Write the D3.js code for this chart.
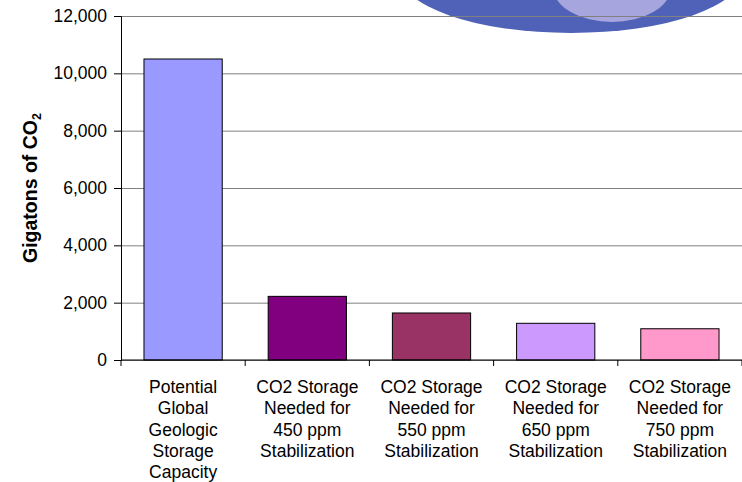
<!DOCTYPE html>
<html>
<head>
<meta charset="utf-8">
<script src="https://cdn.jsdelivr.net/npm/d3@7"></script>
<style>
  body { margin: 0; background: #fff; }
  text { font-family: "Liberation Sans", Arial, sans-serif; fill: #000; }
</style>
</head>
<body>
<div id="chart"></div>
<script>
// data
const categories = ["potential", "450", "550", "650", "750"];
const labelLines = [
  ["Potential", "Global", "Geologic", "Storage", "Capacity"],
  ["CO2 Storage", "Needed for", "450 ppm", "Stabilization"],
  ["CO2 Storage", "Needed for", "550 ppm", "Stabilization"],
  ["CO2 Storage", "Needed for", "650 ppm", "Stabilization"],
  ["CO2 Storage", "Needed for", "750 ppm", "Stabilization"]
];
const values = [10500, 2220, 1640, 1280, 1090];
const barColors = ["#9999ff", "#800080", "#993366", "#cc99ff", "#ff99cc"];
const yTicks = [0, 2000, 4000, 6000, 8000, 10000, 12000];

const W = 742, H = 482;
const margin = {top: 16, right: 0, bottom: 122, left: 121};
const width = W - margin.left - margin.right,
      height = H - margin.top - margin.bottom;

const svg = d3.select("#chart").append("svg")
    .attr("width", W)
    .attr("height", H);

// decorative globe peeking in at the top
svg.append("ellipse")
    .attr("cx", 571).attr("cy", -27)
    .attr("rx", 172).attr("ry", 60)
    .attr("fill", "#4f62b8");
svg.append("ellipse")
    .attr("cx", 612).attr("cy", -13)
    .attr("rx", 59).attr("ry", 35)
    .attr("fill", "#a7a5dd");

const g = svg.append("g")
    .attr("transform", `translate(${margin.left},${margin.top})`);

const x = d3.scaleBand()
  .domain(categories)
  .range([0, width])
  .paddingInner(0.37)
  .paddingOuter(0.185);

const y = d3.scaleLinear()
  .domain([0, 12000])
  .range([height, 0]);

// gridlines
g.append("g")
  .call(d3.axisLeft(y).tickValues(yTicks).tickSize(-width).tickFormat(""))
  .call(a => a.select(".domain").remove())
  .selectAll(".tick line")
    .attr("stroke", "#808080");

// bars
g.append("g")
  .selectAll("rect")
  .data(values)
  .join("rect")
    .attr("x", (d, i) => x(categories[i]))
    .attr("y", d => y(d))
    .attr("width", x.bandwidth())
    .attr("height", d => height - y(d))
    .attr("fill", (d, i) => barColors[i])
    .attr("stroke", "#000")
    .attr("stroke-width", 1);

// Y axis
const yAxis = g.append("g")
  .call(d3.axisLeft(y).tickValues(yTicks).tickSize(7).tickPadding(7).tickFormat(d3.format(",")));
yAxis.selectAll("text").style("font-size", "17.5px").attr("fill", "#000");
yAxis.selectAll(".domain, .tick line").attr("stroke", "#000");

// X axis baseline and category boundary ticks
g.append("line")
  .attr("x1", 0).attr("x2", width)
  .attr("y1", height).attr("y2", height)
  .attr("stroke", "#000");

const bounds = categories.map(c => x(c) - x.step() * x.paddingOuter()).concat([width]);
g.append("g")
  .selectAll("line")
  .data(bounds)
  .join("line")
    .attr("x1", d => d).attr("x2", d => d)
    .attr("y1", height).attr("y2", height + 6)
    .attr("stroke", "#000");

// category labels
g.append("g")
  .selectAll("text")
  .data(labelLines)
  .join("text")
    .attr("text-anchor", "middle")
    .style("font-size", "17.5px")
    .attr("transform", (d, i) => `translate(${x(categories[i]) + x.bandwidth() / 2},${height + 33})`)
  .selectAll("tspan")
  .data(d => d)
  .join("tspan")
    .attr("x", 0)
    .attr("y", (d, j) => j * 21.3)
    .text(d => d);

// Y title
const title = svg.append("text")
    .attr("text-anchor", "middle")
    .attr("transform", `translate(37,${margin.top + height / 2}) rotate(-90)`)
    .style("font-size", "19.5px")
    .style("font-weight", "bold");
title.append("tspan").text("Gigatons of CO");
title.append("tspan").attr("dy", "0.3em").style("font-size", "12.5px").text("2");
</script>
</body>
</html>
